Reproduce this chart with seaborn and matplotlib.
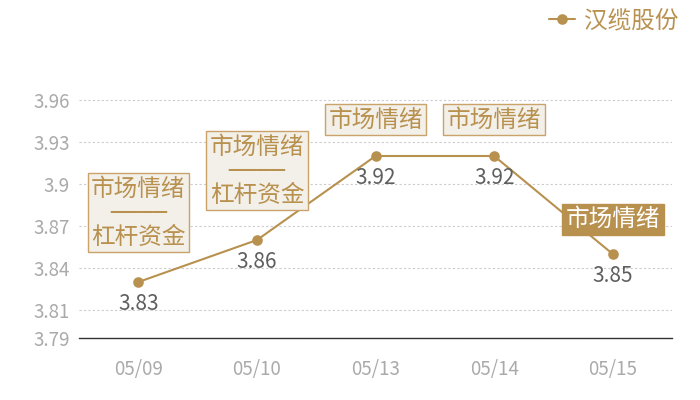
import pandas as pd
import seaborn as sns
import matplotlib.pyplot as plt

dates = ['05/09', '05/10', '05/13', '05/14', '05/15']
prices = [3.83, 3.86, 3.92, 3.92, 3.85]
tags = ['市场情绪\n────\n杠杆资金', '市场情绪\n────\n杠杆资金', '市场情绪', '市场情绪', '市场情绪']
tag_highlight = [False, False, False, False, True]
y_ticks = [3.79, 3.81, 3.84, 3.87, 3.9, 3.93, 3.96]
y_tick_labels = ['3.79', '3.81', '3.84', '3.87', '3.9', '3.93', '3.96']
series_name = '汉缆股份'

GOLD = '#b8914f'
df = pd.DataFrame({'date': dates, 'price': prices})

sns.set_theme(style='white')
plt.rcParams['font.family'] = ['Noto Sans CJK SC', 'DejaVu Sans']

fig = plt.figure(figsize=(7, 4), dpi=100)
ax = fig.add_axes([0.113, 0.155, 0.847, 0.6475])

sns.pointplot(data=df, x='date', y='price', color=GOLD, markers='o',
              linewidth=1.5, markersize=6.5, errorbar=None, label=series_name, ax=ax)

ax.set_xlim(-0.5, len(dates) - 0.5)
ax.set_ylim(3.79, 3.975)
ax.set_yticks(y_ticks)
ax.set_yticklabels(y_tick_labels)
ax.set_xlabel('')
ax.set_ylabel('')
ax.tick_params(axis='y', length=0, pad=6.5, labelsize=13.5, labelcolor='#aaaaaa')
ax.tick_params(axis='x', length=0, pad=15, labelsize=13.5, labelcolor='#aaaaaa')

ax.set_axisbelow(True)
ax.yaxis.grid(True, color='#cccccc', linestyle=(0, (2, 2)), linewidth=0.8)
for side in ['left', 'right', 'top']:
    ax.spines[side].set_visible(False)
ax.spines['bottom'].set_color('#333333')
ax.spines['bottom'].set_linewidth(1.0)

for i, (v, t, hl) in enumerate(zip(prices, tags, tag_highlight)):
    ax.annotate(f'{v:.2f}', (i, v), xytext=(0, -16), textcoords='offset points',
                ha='center', va='center', fontsize=15, color='#5f5f5f')
    if hl:
        box = dict(boxstyle='square,pad=0.15', fc=GOLD, ec=GOLD, lw=1)
        color = 'white'
        dy = 25
    else:
        box = dict(boxstyle='square,pad=0.15', fc='#f3efe9', ec='#c9a36a', lw=1)
        color = GOLD
        dy = 50 if '\n' in t else 26
    # DejaVu first so the box-drawing rule joins up, CJK falls back to Noto
    ax.annotate(t, (i, v), xytext=(0, dy), textcoords='offset points',
                ha='center', va='center', fontsize=17, color=color,
                family=['DejaVu Sans', 'Noto Sans CJK SC'],
                linespacing=1.0, bbox=box, zorder=5)

leg = ax.legend(loc='upper right', bbox_to_anchor=(1.0, 1.03),
                bbox_transform=fig.transFigure, frameon=False, fontsize=17,
                labelcolor=GOLD, handlelength=1.1, handletextpad=0.4)

fig.savefig('out.png', dpi=100)
